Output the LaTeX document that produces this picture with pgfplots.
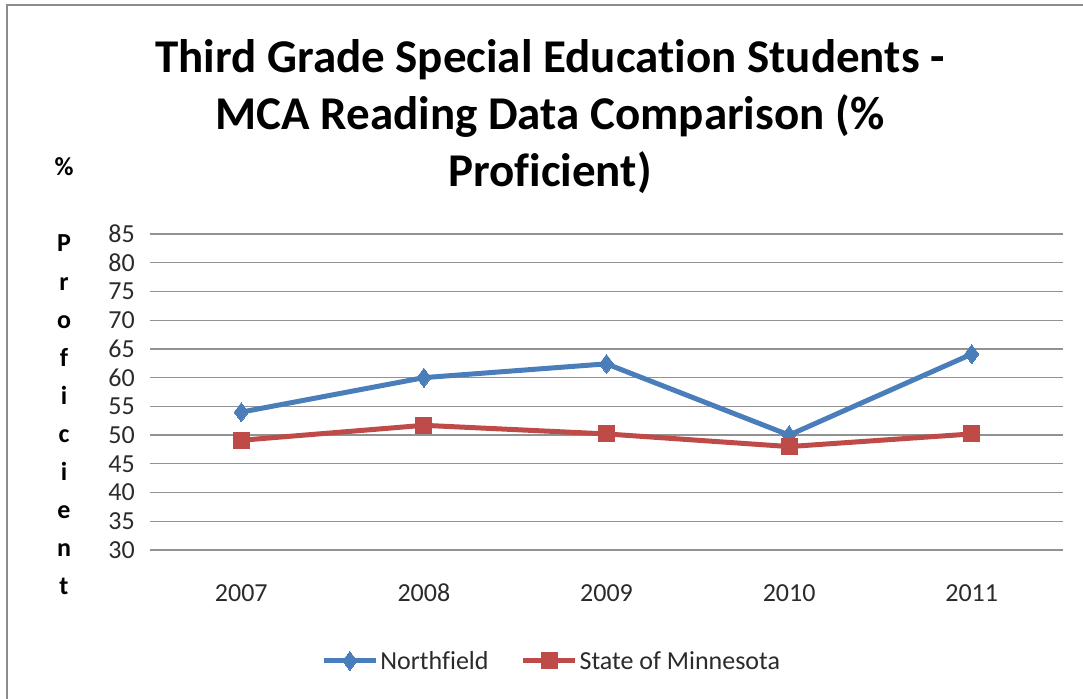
\documentclass[border=0pt]{standalone}
\usepackage{fontspec}
\setmainfont{Carlito}[Ligatures=NoCommon]
\usepackage{pgfplots}
\pgfplotsset{compat=1.18}
\definecolor{nfblue}{HTML}{4A7EBB}
\definecolor{mnred}{HTML}{BE4B48}
\definecolor{gridgray}{HTML}{929292}
\definecolor{framegray}{HTML}{8C8C8C}
\definecolor{labelgray}{HTML}{2B2B2B}

\begin{document}
\begin{tikzpicture}
\useasboundingbox (0,0) rectangle (1083pt,698pt);
% chart frame (only left and top edges are inside the picture)
\draw[framegray, line width=2.5pt] (7pt,-5pt) -- (7pt,693pt) -- (1090pt,693pt);

% title
\node[anchor=base, font=\fontsize{47}{57}\selectfont\bfseries] at (550pt,625pt) {Third Grade Special Education Students -};
\node[anchor=base, font=\fontsize{47}{57}\selectfont\bfseries] at (550pt,568pt) {MCA Reading Data Comparison (\%};
\node[anchor=base, font=\fontsize{47}{57}\selectfont\bfseries] at (550pt,511pt) {Proficient)};

% stacked y label
\node[anchor=base, font=\fontsize{26}{30}\selectfont\bfseries] at (64pt,522pt) {\%};
\foreach \c [count=\i from 0] in {P,r,o,f,i,c,i,e,n,t}
  \node[anchor=base, font=\fontsize{26}{30}\selectfont\bfseries] at (64pt,{446pt-\i*38.1pt}) {\c};

\begin{axis}[
  at={(150pt,148pt)}, anchor=south west,
  scale only axis, width=913pt, height=316pt,
  xmin=-0.5, xmax=4.5, ymin=30, ymax=85,
  xtick={0,1,2,3,4}, xticklabels={2007,2008,2009,2010,2011},
  ytick={30,35,...,85},
  /pgf/number format/assume math mode=true,
  ymajorgrids, grid style={gridgray, line width=1.3pt},
  axis line style={draw=none}, major tick style={draw=none},
  ticklabel style={font=\fontsize{26}{30}\selectfont, text=labelgray},
  yticklabel style={anchor=east, inner sep=0pt, xshift=-15pt},
  xticklabel style={anchor=north, inner sep=0pt, yshift=-34pt},
  legend columns=2,
  legend style={at={(0.44,-0.351)}, anchor=center, draw=none,
    font=\fontsize{26}{30}\selectfont, text=labelgray,
    /tikz/every even column/.append style={column sep=30pt}},
  legend cell align=left,
  legend image code/.code={\draw[mark repeat=2,mark phase=2,#1] plot coordinates {(0pt,0pt) (26pt,0pt) (52pt,0pt)};},
]
\addplot[nfblue, line width=5pt, mark=diamond*, mark size=9.5pt, mark options={solid, line width=0pt}]
  coordinates {(0,54.0) (1,60.0) (2,62.4) (3,50.0) (4,64.1)};
\addlegendentry{Northfield}
\addplot[mnred, line width=5pt, mark=square*, mark size=8pt, mark options={solid, line width=0pt}]
  coordinates {(0,49.1) (1,51.7) (2,50.2) (3,48.0) (4,50.2)};
\addlegendentry{State of Minnesota}
\end{axis}
\end{tikzpicture}
\end{document}
